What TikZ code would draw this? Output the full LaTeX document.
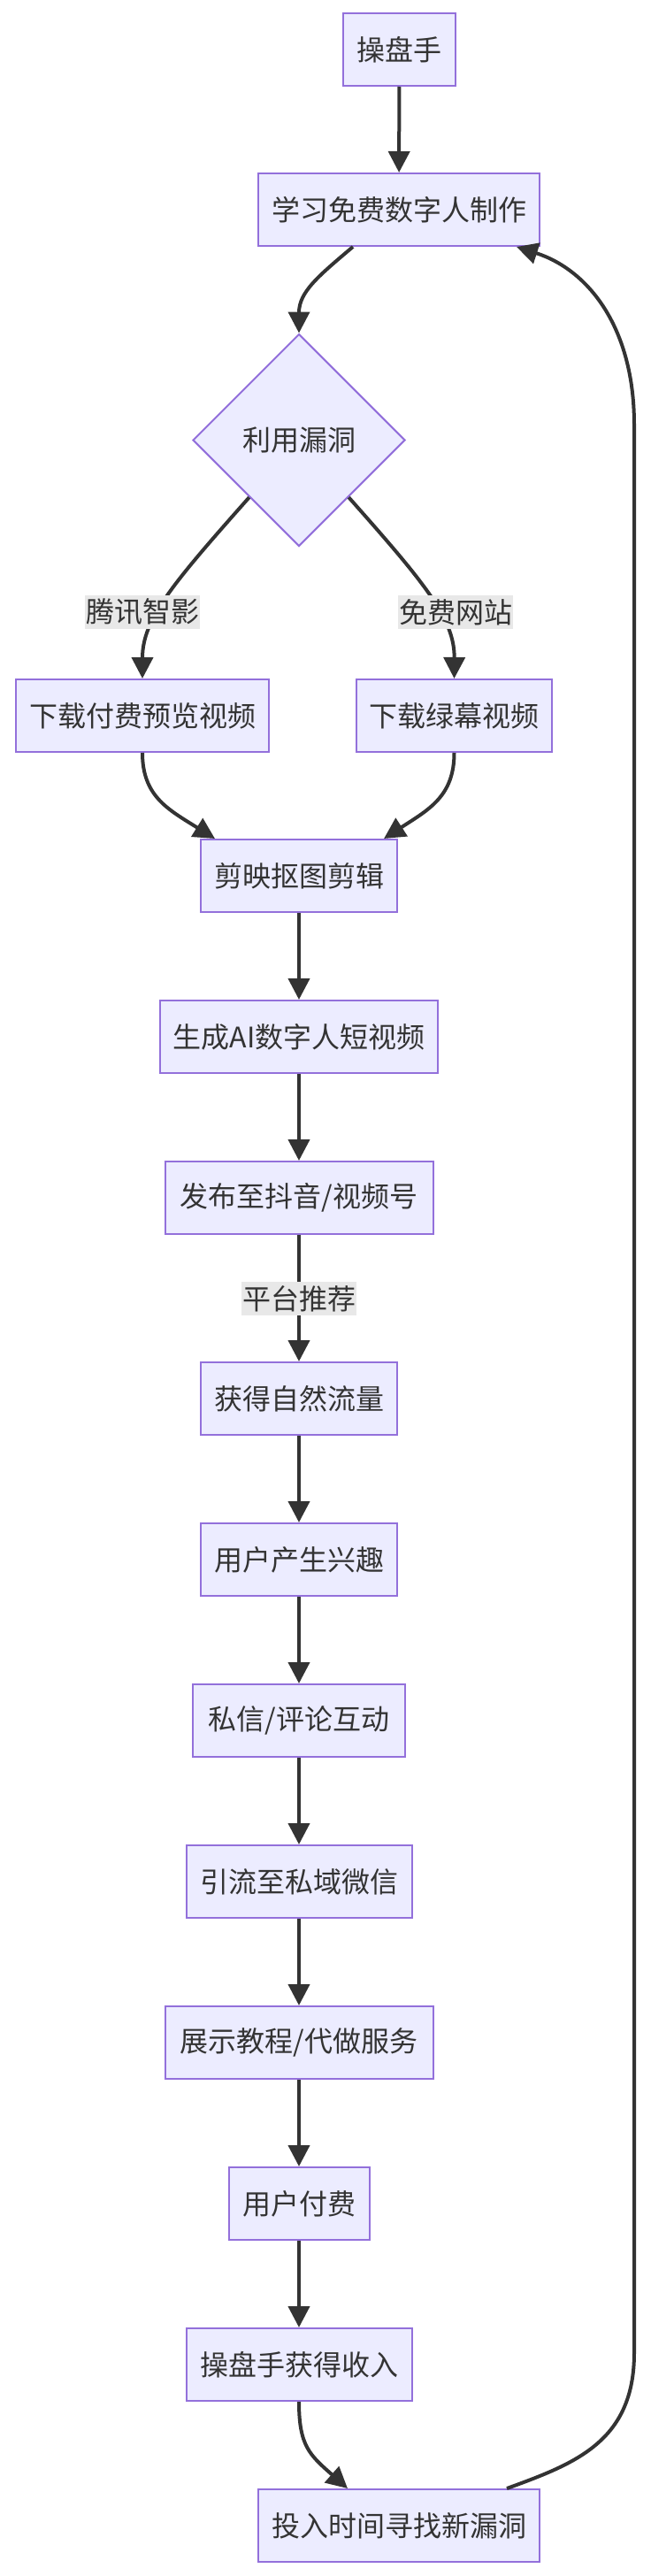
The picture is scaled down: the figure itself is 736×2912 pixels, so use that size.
\documentclass[tikz,border=0pt]{standalone}
\usepackage{fontspec}
\setmainfont{Noto Sans CJK SC}
\usetikzlibrary{shapes.geometric,arrows.meta,calc}
\definecolor{nodefill}{HTML}{ECECFF}
\definecolor{nodeborder}{HTML}{9370DB}
\definecolor{edgecol}{HTML}{333333}
\definecolor{labelbg}{HTML}{E8E8E8}
\begin{document}
\begin{tikzpicture}[x=1pt,y=1pt,
  txt/.style={text=edgecol, font=\fontsize{32pt}{38pt}\selectfont},
  box/.style={txt, draw=nodeborder, line width=2pt, fill=nodefill, minimum height=82pt, inner sep=0pt},
  dia/.style={txt, diamond, draw=nodeborder, line width=2pt, fill=nodefill, minimum width=240pt, minimum height=240pt, inner sep=0pt},
  edge/.style={draw=edgecol, line width=4pt, -{Triangle[length=24pt,width=24pt]}},
  elabel/.style={txt, fill=labelbg, inner xsep=1pt, inner ysep=0pt, minimum height=38pt}]
\useasboundingbox (0,0) rectangle (736,-2912);

\node[box, minimum width=127pt] (A) at (451.5,-56) {操盘手};
\node[box, minimum width=318pt] (B) at (451,-237) {学习免费数字人制作};
\node[dia] (C) at (338,-497.5) {利用漏洞};
\node[box, minimum width=286pt] (D) at (161,-809) {下载付费预览视频};
\node[box, minimum width=221pt] (E) at (513.5,-809) {下载绿幕视频};
\node[box, minimum width=222pt] (F) at (338,-990) {剪映抠图剪辑};
\node[box, minimum width=314pt] (G) at (338,-1172) {生成AI数字人短视频};
\node[box, minimum width=303pt] (H) at (338,-1354) {发布至抖音/视频号};
\node[box, minimum width=222pt] (I) at (338,-1581) {获得自然流量};
\node[box, minimum width=222pt] (J) at (338,-1763) {用户产生兴趣};
\node[box, minimum width=240pt] (K) at (338,-1945) {私信/评论互动};
\node[box, minimum width=255pt] (L) at (338,-2127) {引流至私域微信};
\node[box, minimum width=303pt] (M) at (338,-2309) {展示教程/代做服务};
\node[box, minimum width=159pt] (N) at (338,-2491) {用户付费};
\node[box, minimum width=255pt] (O) at (338,-2673) {操盘手获得收入};
\node[box, minimum width=318pt] (P) at (451,-2855) {投入时间寻找新漏洞};

\draw[edge] (A) -- (B);
\draw[edge] ($(B.south west)+(108pt,0)$) .. controls (360,-312) and (338,-330) .. (C.north);
\draw[edge] (C.229) .. controls (195,-660) and (161,-700) .. (D.north);
\draw[edge] (C.311) .. controls (481,-660) and (514,-700) .. (E.north);
\draw[edge] (D.south) .. controls (161,-900) and (190,-915) .. ($(F.north west)+(17pt,0)$);
\draw[edge] (E.south) .. controls (513.5,-900) and (485,-915) .. ($(F.north east)+(-16pt,0)$);
\draw[edge] (F) -- (G);
\draw[edge] (G) -- (H);
\draw[edge] (H) -- (I);
\draw[edge] (I) -- (J);
\draw[edge] (J) -- (K);
\draw[edge] (K) -- (L);
\draw[edge] (L) -- (M);
\draw[edge] (M) -- (N);
\draw[edge] (N) -- (O);
\draw[edge] (O.south) .. controls (338,-2765) and (350,-2775) .. ($(P.north west)+(102pt,0)$);
\draw[edge] ($(P.north east)+(-38pt,0)$) .. controls (650,-2785) and (717,-2760) .. (717,-2660)
  -- (717,-480) .. controls (717,-370) and (665,-305) .. ($(B.south east)+(-27pt,0)$);

\node[elabel] (L1) at (161,-692) {腾讯智影};
\node[elabel] (L2) at (515,-692) {免费网站};
\node[elabel] (L3) at (338,-1468) {平台推荐};
\end{tikzpicture}
\end{document}
